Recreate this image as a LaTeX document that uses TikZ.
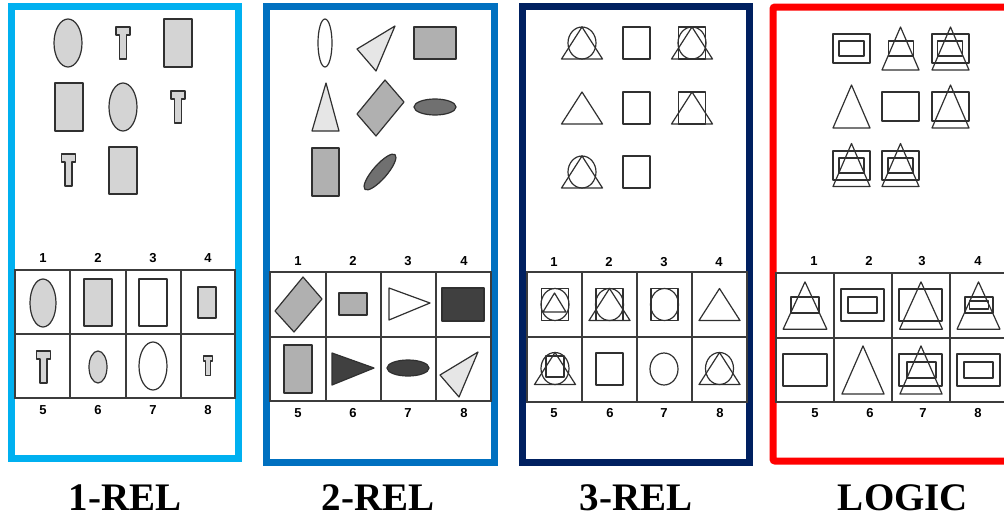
\documentclass[tikz,border=0pt]{standalone}
\usepackage{fontspec}
\setmainfont{Liberation Serif}
\newfontfamily\numfont{Liberation Sans}

\definecolor{relone}{HTML}{00B0F0}
\definecolor{reltwo}{HTML}{0070C0}
\definecolor{relthree}{HTML}{002060}
\definecolor{logicred}{HTML}{FF0000}
\definecolor{edge}{HTML}{303030}
\definecolor{gridc}{HTML}{3C3C3C}
\definecolor{lgray}{HTML}{D4D4D4}
\definecolor{pgray}{HTML}{E6E6E6}
\definecolor{mgray}{HTML}{B0B0B0}
\definecolor{dgray}{HTML}{707070}
\definecolor{vdgray}{HTML}{404040}

\tikzset{
	frame/.style={line width=7pt},
	gridln/.style={draw=gridc,line width=1.2pt},
	shp/.style={draw=edge,line width=1.2pt,line join=round},
	num/.style={font=\numfont\bfseries\fontsize{13}{13}\selectfont},
	title/.style={font=\bfseries\fontsize{39}{39}\selectfont,anchor=base}
}

% T-piece, top centre and scale
\newcommand{\teeshape}[3]{\draw[shp,fill=lgray,shift={(#1,#2)},scale=#3] (-7,0)--(7,0)--(7,8)--(3.5,8)--(3.5,32)--(-3.5,32)--(-3.5,8)--(-7,8)--cycle;}
% 3-REL pieces, centre
\newcommand{\mytri}[2]{\draw[shp] (#1-20.5,#2+16)--(#1,#2-16)--(#1+20.5,#2+16)--cycle;}
\newcommand{\mycirc}[2]{\draw[shp] (#1,#2) ellipse [x radius=14,y radius=16];}
\newcommand{\mysq}[2]{\draw[shp] (#1-13.5,#2-16) rectangle (#1+13.5,#2+16);}
% LOGIC pieces, centre and scaling
\newcommand{\ltri}[3]{\draw[shp,shift={(#1,#2)},#3] (-18.5,21.5)--(0,-21.5)--(18.5,21.5)--cycle;}
\newcommand{\lbox}[3]{\draw[shp,shift={(#1,#2)},#3] (-18.5,-14.5) rectangle (18.5,14.5);}
\newcommand{\linner}[3]{\draw[shp,shift={(#1,#2)},#3] (-12.5,-7.5) rectangle (12.5,7.5);}

\begin{document}
\begin{tikzpicture}[x=1pt,y=-1pt]
	\useasboundingbox (0,0) rectangle (1004,517);
	\clip (0,0) rectangle (1004,517);
	\fill[white] (0,0) rectangle (1004,517);

	% frames
	\draw[frame,draw=relone] (11.5,6.5) rectangle (238.5,458.5);
	\draw[frame,draw=reltwo] (266,6.5) rectangle (494,462);
	\draw[frame,draw=relthree] (522,6.5) rectangle (749.5,462);
	\draw[frame,draw=logicred,rounded corners=2pt] (773,7) rectangle (1020,461);

	% titles
	\node[title] (t1) at (125,510) {1-REL};
	\node[title] (t2) at (378,510) {2-REL};
	\node[title] (t3) at (636,510) {3-REL};
	\node[title] (t4) at (903,510) {LOGIC};

	% ---------- 1-REL ----------
	\draw[shp,fill=lgray] (68,43) ellipse [x radius=14,y radius=24];
	\teeshape{123}{27}{1}
	\draw[shp,fill=lgray] (164,19) rectangle (192,67);
	\draw[shp,fill=lgray] (55,83) rectangle (83,131);
	\draw[shp,fill=lgray] (123,107) ellipse [x radius=14,y radius=24];
	\teeshape{178}{91}{1}
	\teeshape{68.5}{154}{1}
	\draw[shp,fill=lgray] (109,147) rectangle (137,194);

	\draw[gridln] (15,270) rectangle (235,398);
	\draw[gridln] (15,334)--(235,334);
	\foreach \x in {70,126,181} \draw[gridln] (\x,270)--(\x,398);
	\foreach \n/\x in {1/43,2/98,3/153,4/208} \node[num] (a\n) at (\x,258) {\n};
	\foreach \n/\x in {5/43,6/98,7/153,8/208} \node[num] (a\n) at (\x,410) {\n};

	\draw[shp,fill=lgray] (43,303) ellipse [x radius=13,y radius=24];
	\draw[shp,fill=lgray] (84,279) rectangle (112,326);
	\draw[shp,fill=white] (139,279) rectangle (167,326);
	\draw[shp,fill=lgray] (198,287) rectangle (216,318);
	\teeshape{43.5}{351}{1}
	\draw[shp,fill=lgray] (98,367) ellipse [x radius=9,y radius=16];
	\draw[shp,fill=white] (153,366) ellipse [x radius=14,y radius=24];
	\teeshape{208}{356}{0.62}

	% ---------- 2-REL ----------
	\draw[shp,fill=white] (325,43) ellipse [x radius=7,y radius=24];
	\draw[shp,fill=pgray] (357,49)--(395,26)--(376,71)--cycle;
	\draw[shp,fill=mgray] (414,27) rectangle (456,59);
	\draw[shp,fill=pgray] (326,83)--(339,131)--(312,131)--cycle;
	\draw[shp,fill=mgray] (357,114)--(385,80)--(404,102)--(376,136)--cycle;
	\draw[shp,fill=dgray] (435,107) ellipse [x radius=21,y radius=8];
	\draw[shp,fill=mgray] (312,148) rectangle (339,196);
	\draw[shp,fill=dgray,rotate around={49:(380,172)}] (380,172) ellipse [x radius=23,y radius=7];

	\draw[gridln] (270,272) rectangle (491,401);
	\draw[gridln] (270,337)--(491,337);
	\foreach \x in {326,381,436} \draw[gridln] (\x,272)--(\x,401);
	\foreach \n/\x in {1/298,2/353,3/408,4/464} \node[num] (b\n) at (\x,261) {\n};
	\foreach \n/\x in {5/298,6/353,7/408,8/464} \node[num] (b\n) at (\x,413) {\n};

	\draw[shp,fill=mgray] (275,311)--(303,277)--(322,299)--(294,332)--cycle;
	\draw[shp,fill=mgray] (339,293) rectangle (367,315);
	\draw[shp,fill=white] (389,288)--(430,303)--(389,320)--cycle;
	\draw[shp,fill=vdgray] (442,288) rectangle (484,321);
	\draw[shp,fill=mgray] (284,345) rectangle (312,393);
	\draw[shp,fill=vdgray] (332,353)--(374,368)--(332,385)--cycle;
	\draw[shp,fill=vdgray] (408,368) ellipse [x radius=21,y radius=8];
	\draw[shp,fill=pgray] (440,375)--(478,352)--(459,397)--cycle;

	% ---------- 3-REL ----------
	\mytri{582}{43} \mycirc{582}{43}
	\mysq{636.5}{43}
	\mysq{692}{43} \mytri{692}{43} \mycirc{692}{43}
	\mytri{582}{108}
	\mysq{636.5}{108}
	\mysq{692}{108} \mytri{692}{108}
	\mytri{582}{172} \mycirc{582}{172}
	\mysq{636.5}{172}

	\draw[gridln] (527,272) rectangle (747,402);
	\draw[gridln] (527,337)--(747,337);
	\foreach \x in {582,637,692} \draw[gridln] (\x,272)--(\x,402);
	\foreach \n/\x in {1/554,2/609,3/664,4/719} \node[num] (c\n) at (\x,262) {\n};
	\foreach \n/\x in {5/554,6/610,7/664,8/720} \node[num] (c\n) at (\x,413) {\n};

	\mysq{555}{304.5} \mycirc{555}{304.5}
	\draw[shp] (543,312)--(554.5,293)--(566,312)--cycle;
	\mysq{609.5}{304.5} \mytri{609.5}{304.5} \mycirc{609.5}{304.5}
	\mysq{664.5}{304.5} \mycirc{664.5}{304.5}
	\mytri{719.5}{304.5}
	\mytri{555}{368.5} \mycirc{555}{368.5}
	\draw[shp] (546,356) rectangle (564,377);
	\mysq{609.5}{369}
	\mycirc{664}{369}
	\mytri{719.5}{368.5} \mycirc{719.5}{368.5}

	% ---------- LOGIC ----------
	\lbox{851.5}{48.5}{} \linner{851.5}{48.5}{}
	\ltri{900.5}{48.5}{} \linner{901}{48.5}{}
	\lbox{950.5}{48.5}{} \linner{950}{48.5}{} \ltri{950.5}{48.5}{}
	\ltri{851.5}{106.5}{}
	\lbox{900.5}{106.5}{}
	\lbox{950.5}{106.5}{} \ltri{950.5}{106.5}{}
	\lbox{851.5}{165.5}{} \linner{851.5}{165.5}{} \ltri{851.5}{165}{}
	\lbox{900.5}{165.5}{} \linner{900.5}{165.5}{} \ltri{900.5}{165}{}

	\draw[gridln] (776,273) rectangle (1008,402);
	\draw[gridln] (776,338)--(1008,338);
	\foreach \x in {834,892,950} \draw[gridln] (\x,273)--(\x,402);
	\foreach \n/\x in {1/814,2/869,3/922,4/978} \node[num] (d\n) at (\x,261) {\n};
	\foreach \n/\x in {5/815,6/870,7/923,8/978} \node[num] (d\n) at (\x,413) {\n};

	\ltri{805}{305.5}{xscale=1.18,yscale=1.1} \linner{805}{305}{xscale=1.12,yscale=1.07}
	\lbox{862.5}{305}{xscale=1.16,yscale=1.1} \linner{862.5}{305}{xscale=1.16,yscale=1.07}
	\lbox{920.5}{305}{xscale=1.16,yscale=1.1} \ltri{921}{305.5}{xscale=1.16,yscale=1.1}
	\ltri{978.5}{305.5}{xscale=1.16,yscale=1.1} \linner{979}{305}{xscale=1.12,yscale=1.07}
	\draw[shp] (969.5,301) rectangle (988.5,309);
	\lbox{805}{370}{xscale=1.19,yscale=1.1}
	\ltri{863}{370}{xscale=1.14,yscale=1.12}
	\lbox{920.5}{370}{xscale=1.16,yscale=1.1} \linner{921.5}{370}{xscale=1.16,yscale=1.07} \ltri{921}{370}{xscale=1.14,yscale=1.12}
	\lbox{978.5}{370}{xscale=1.16,yscale=1.1} \linner{978.5}{370}{xscale=1.16,yscale=1.07}
\end{tikzpicture}
\end{document}
